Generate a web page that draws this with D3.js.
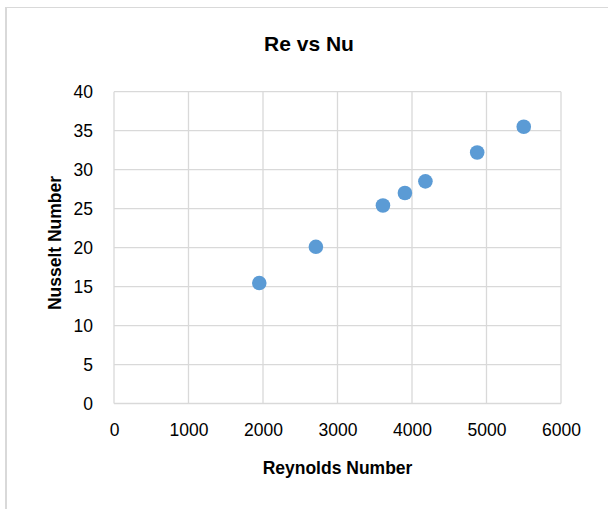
<!DOCTYPE html>
<html><head><meta charset="utf-8">
<script src="https://cdn.jsdelivr.net/npm/d3@7"></script>
<style>body{margin:0;background:#fff}svg{display:block}</style>
</head><body>
<svg id="c" width="608" height="509"></svg>
<script>
const reynolds = [1950, 2710, 3610, 3905, 4180, 4875, 5500];
const nusselt  = [15.45, 20.1, 25.4, 27.0, 28.5, 32.2, 35.5];
const xTicks = [0, 1000, 2000, 3000, 4000, 5000, 6000];
const yTicks = [0, 5, 10, 15, 20, 25, 30, 35, 40];
const title = "Re vs Nu";
const xTitle = "Reynolds Number";
const yTitle = "Nusselt Number";

const svg = d3.select("#c");
const font = "'Liberation Sans', Arial, sans-serif";
const m = {l:114, r:561, t:91.7, b:403.5};
const x = d3.scaleLinear().domain([0,6000]).range([m.l, m.r]);
const y = d3.scaleLinear().domain([0,40]).range([m.b, m.t]);

svg.append("rect").attr("x",0).attr("y",0).attr("width",608).attr("height",509).attr("fill","#fff");
// chart frame
svg.append("line").attr("x1",6).attr("x2",608).attr("y1",7.5).attr("y2",7.5).attr("stroke","#d9d9d9").attr("stroke-width",1);
svg.append("line").attr("x1",6).attr("x2",6).attr("y1",7).attr("y2",509).attr("stroke","#d9d9d9").attr("stroke-width",2);

// gridlines
const g = svg.append("g");
g.selectAll(".hx").data(yTicks).enter().append("line")
  .attr("x1",m.l).attr("x2",m.r).attr("y1",d=>y(d)).attr("y2",d=>y(d))
  .attr("stroke","#d9d9d9").attr("stroke-width",1.3);
g.selectAll(".vx").data(xTicks).enter().append("line")
  .attr("y1",m.t).attr("y2",m.b).attr("x1",d=>x(d)).attr("x2",d=>x(d))
  .attr("stroke","#d9d9d9").attr("stroke-width",1.3);

// axes labels using d3 axes
const xa = svg.append("g").attr("transform",`translate(0,${m.b})`)
  .call(d3.axisBottom(x).tickValues(xTicks).tickSize(0).tickPadding(20).tickFormat(d3.format("d")));
xa.select(".domain").remove();
xa.selectAll("text").attr("font-family",font).attr("font-size",17.5).attr("fill","#000");

const ya = svg.append("g").attr("transform",`translate(${m.l},0)`)
  .call(d3.axisLeft(y).tickValues(yTicks).tickSize(0).tickPadding(21).tickFormat(d3.format("d")));
ya.select(".domain").remove();
ya.selectAll("text").attr("font-family",font).attr("font-size",17.5).attr("fill","#000");

// points
svg.selectAll("circle.pt").data(reynolds.map((r,i)=>[r,nusselt[i]])).enter().append("circle")
  .attr("class","pt").attr("cx",d=>x(d[0])).attr("cy",d=>y(d[1])).attr("r",7.3)
  .attr("fill","#5b9bd5");

// titles
svg.append("text").attr("x",309).attr("y",51).attr("text-anchor","middle")
  .attr("font-family",font).attr("font-weight","bold").attr("font-size",21).text(title);
svg.append("text").attr("x",337.5).attr("y",474).attr("text-anchor","middle")
  .attr("font-family",font).attr("font-weight","bold").attr("font-size",17.5).text(xTitle);
svg.append("text").attr("transform","translate(61,243) rotate(-90)").attr("text-anchor","middle")
  .attr("font-family",font).attr("font-weight","bold").attr("font-size",17.5).text(yTitle);
</script>
</body></html>
